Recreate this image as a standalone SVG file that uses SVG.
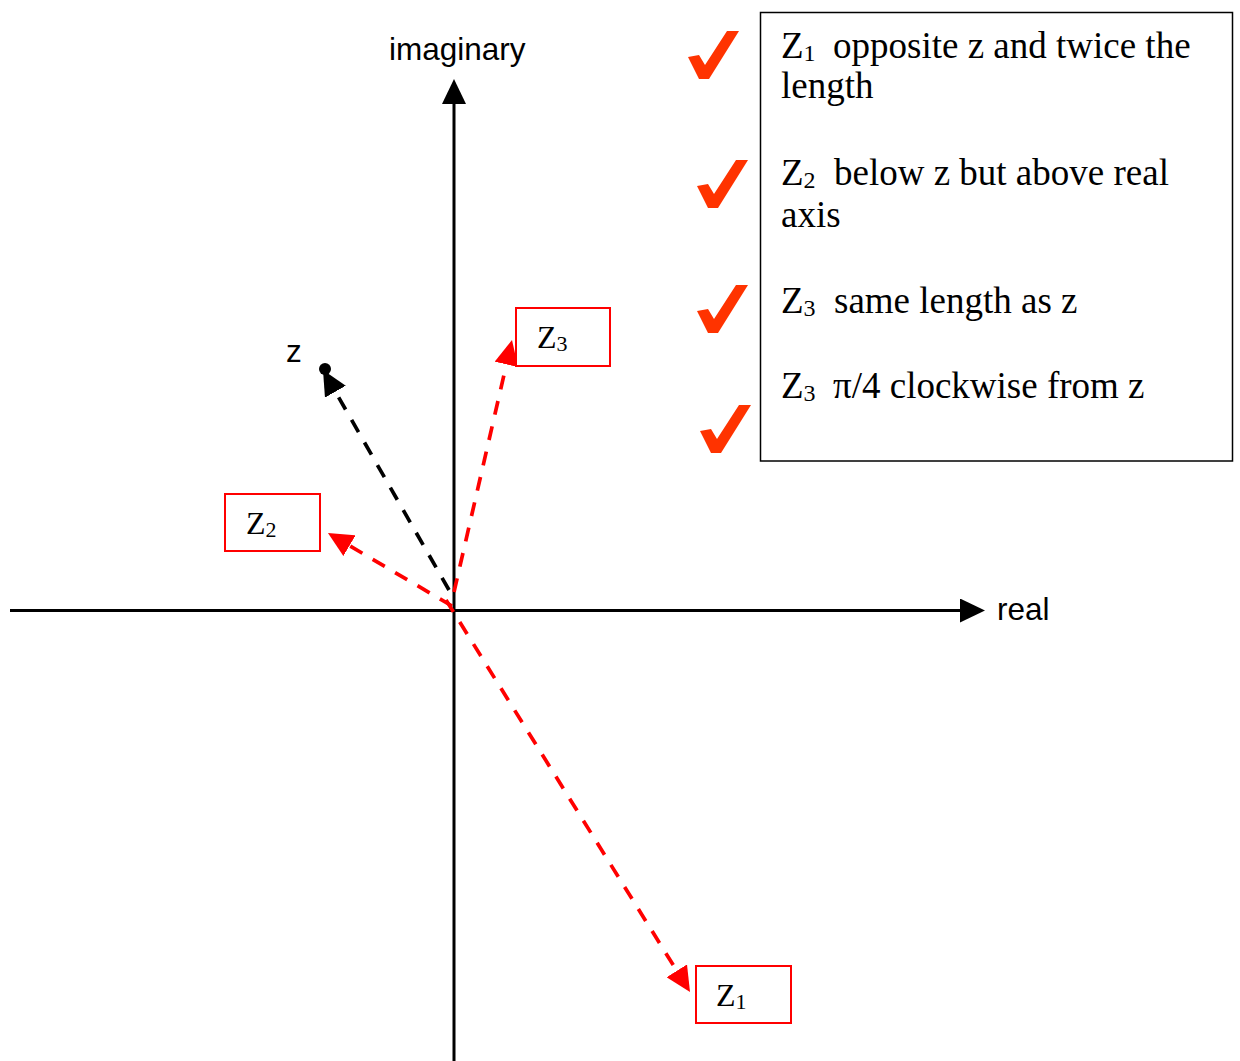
<svg xmlns="http://www.w3.org/2000/svg" width="1240" height="1061" viewBox="0 0 1240 1061">
<defs>
<style>
.axis{stroke:#000;stroke-width:3;fill:none}
.vec{stroke-width:3.7;fill:none;stroke-dasharray:14 12}
.blk{stroke:#000}
.red{stroke:#ff0000}
.lbl{font-family:"Liberation Sans",Arial,sans-serif;font-size:31.5px;fill:#000}
.ser{font-family:"Liberation Serif","Times New Roman",serif;fill:#000}
.note{font-size:37px}
.sub{font-size:24px}
.bsub{font-size:22px}
.box{fill:#fff;stroke:#ff0000;stroke-width:2}
.check{fill:#ff3300}
</style>
<marker id="ahBlack" markerUnits="userSpaceOnUse" viewBox="0 0 25 24" markerWidth="25" markerHeight="24" refX="0" refY="12" orient="auto"><path d="M0,0 L25,12 L0,24 Z" fill="#000"/></marker>
<marker id="ahRed" markerUnits="userSpaceOnUse" viewBox="0 0 25 24" markerWidth="25" markerHeight="24" refX="0" refY="12" orient="auto"><path d="M0,0 L25,12 L0,24 Z" fill="#ff0000"/></marker>
<path id="chk" d="M0,26 L11,24 L17,34 L39,0 L51,0 L21,48 L11,48 Z"/>
</defs>
<rect width="1240" height="1061" fill="#fff"/>
<g id="connectors">
<line class="axis" x1="10" y1="610.5" x2="960" y2="610.5" marker-end="url(#ahBlack)"/>
<line class="axis" x1="454" y1="1061" x2="454" y2="104" marker-end="url(#ahBlack)"/>
<line class="vec blk" x1="449" y1="590" x2="335.4" y2="391.7" marker-end="url(#ahBlack)"/>
<line class="vec red" x1="454" y1="592" x2="506.4" y2="364.4" marker-end="url(#ahRed)"/>
<line class="vec red" x1="452" y1="606" x2="349.5" y2="545.7" marker-end="url(#ahRed)"/>
<line class="vec red" x1="446" y1="600" x2="676.8" y2="970.8" marker-end="url(#ahRed)"/>
<circle cx="325" cy="369" r="6" fill="#000"/>
</g>
<g id="axis-labels">
<text class="lbl" x="389" y="60">imaginary</text>
<text class="lbl" x="997" y="620">real</text>
<text class="lbl" x="286" y="362">z</text>
</g>
<g id="node-z3">
<rect class="box" x="516" y="308" width="94" height="58"/>
<text class="ser" x="537" y="348" font-size="32">Z<tspan class="bsub" dy="3">3</tspan></text>
</g>
<g id="node-z2">
<rect class="box" x="225" y="494" width="95" height="57"/>
<text class="ser" x="246" y="534" font-size="32">Z<tspan class="bsub" dy="3">2</tspan></text>
</g>
<g id="node-z1">
<rect class="box" x="696" y="966" width="95" height="57"/>
<text class="ser" x="716" y="1006" font-size="32">Z<tspan class="bsub" dy="3">1</tspan></text>
</g>
<g id="legend">
<rect x="760.5" y="12.5" width="472" height="448.5" fill="none" stroke="#000" stroke-width="1.5"/>
<text class="ser note" x="781" y="58">Z<tspan class="sub" dy="3">1</tspan><tspan x="833" dy="-3">opposite z and twice the</tspan></text>
<text class="ser note" x="781" y="98">length</text>
<text class="ser note" x="781" y="185">Z<tspan class="sub" dy="3">2</tspan><tspan x="834" dy="-3">below z but above real</tspan></text>
<text class="ser note" x="781" y="227">axis</text>
<text class="ser note" x="781" y="313">Z<tspan class="sub" dy="3">3</tspan><tspan x="834" dy="-3">same length as z</tspan></text>
<text class="ser note" x="781" y="398">Z<tspan class="sub" dy="3">3</tspan><tspan x="833" dy="-3">π/4 clockwise from z</tspan></text>
</g>
<g id="checks">
<use href="#chk" class="check" x="688" y="31"/>
<use href="#chk" class="check" x="697" y="160"/>
<use href="#chk" class="check" x="697" y="285"/>
<use href="#chk" class="check" x="700" y="405"/>
</g>
</svg>
